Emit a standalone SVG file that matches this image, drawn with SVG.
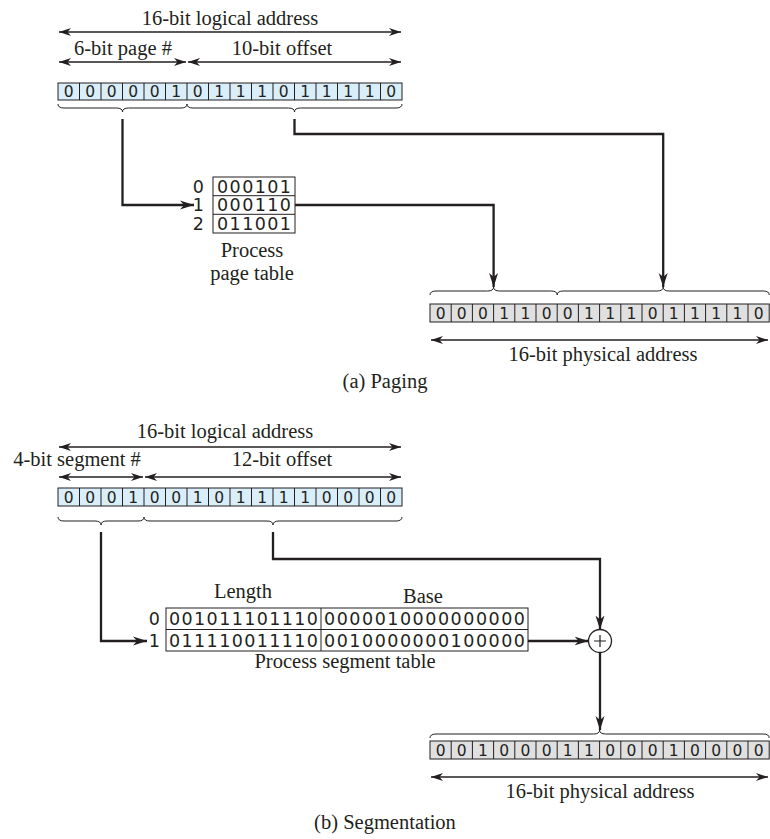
<svg xmlns="http://www.w3.org/2000/svg" width="770" height="839" viewBox="0 0 770 839">
<style>
.lbl{font-family:"Liberation Serif","Times New Roman",serif;font-size:20.5px;fill:#231f20;text-anchor:middle}
.bit{font-family:"DejaVu Sans","Liberation Sans",sans-serif;font-size:15.5px;fill:#231f20;text-anchor:middle}
.tb{font-family:"DejaVu Sans","Liberation Sans",sans-serif;font-size:17.5px;fill:#231f20}
.idx{font-family:"DejaVu Sans","Liberation Sans",sans-serif;font-size:17.5px;fill:#231f20;text-anchor:end}
.logbox{fill:#d9eef9;stroke:#231f20;stroke-width:1}
.phybox{fill:#e0e0e0;stroke:#231f20;stroke-width:1}
.tbl{fill:#ffffff;stroke:#231f20;stroke-width:1}
.div{stroke:#231f20;stroke-width:1;fill:none}
.dim{stroke:#231f20;stroke-width:1.3;fill:none;marker-start:url(#ah);marker-end:url(#ah)}
.brace{stroke:#231f20;stroke-width:1;fill:none}
.conn{stroke:#231f20;stroke-width:2.3;fill:none}
.conna{stroke:#231f20;stroke-width:2.3;fill:none;marker-end:url(#ah2)}
</style>
<defs>
<marker id="ah" viewBox="-12 -5 12 10" refX="0" refY="0" markerWidth="12" markerHeight="10" markerUnits="userSpaceOnUse" orient="auto-start-reverse">
<path d="M0,0 L-12,-4 L-8.5,0 L-12,4 Z" fill="#231f20"/>
</marker>
<marker id="ah2" viewBox="-14 -5 14 10" refX="0" refY="0" markerWidth="14" markerHeight="10" markerUnits="userSpaceOnUse" orient="auto">
<path d="M0,0 L-14,-4.5 L-10,0 L-14,4.5 Z" fill="#231f20"/>
</marker>
</defs>

<!-- (a) Paging -->
<g id="paging-logical-dims">
<text class="lbl" x="230" y="25">16-bit logical address</text>
<line class="dim" x1="59" y1="32" x2="401" y2="32"/>
<text class="lbl" x="123" y="55">6-bit page #</text>
<text class="lbl" x="282" y="55">10-bit offset</text>
<line class="dim" x1="59" y1="62" x2="186" y2="62"/>
<line class="dim" x1="188" y1="62" x2="401" y2="62"/>
</g>

<g id="paging-logical-address">
<rect class="logbox" x="58" y="83" width="344" height="17"/>
<path class="div" d="M79.5,83v17M101,83v17M122.5,83v17M144,83v17M165.5,83v17M187,83v17M208.5,83v17M230,83v17M251.5,83v17M273,83v17M294.5,83v17M316,83v17M337.5,83v17M359,83v17M380.5,83v17"/>
<text class="bit" y="97"><tspan x="68.75">0</tspan><tspan x="90.25">0</tspan><tspan x="111.75">0</tspan><tspan x="133.25">0</tspan><tspan x="154.75">0</tspan><tspan x="176.25">1</tspan><tspan x="197.75">0</tspan><tspan x="219.25">1</tspan><tspan x="240.75">1</tspan><tspan x="262.25">1</tspan><tspan x="283.75">0</tspan><tspan x="305.25">1</tspan><tspan x="326.75">1</tspan><tspan x="348.25">1</tspan><tspan x="369.75">1</tspan><tspan x="391.25">0</tspan></text>
<path class="brace" d="M58,104 Q58,108 64,108 L116.5,108 Q122.5,108 122.5,112 Q122.5,108 128.5,108 L181,108 Q187,108 187,104"/>
<path class="brace" d="M187,104 Q187,108 193,108 L288.5,108 Q294.5,108 294.5,112 Q294.5,108 300.5,108 L396,108 Q402,108 402,104"/>
</g>

<g id="page-table">
<text class="idx" x="204" y="192.5">0</text>
<text class="idx" x="204" y="211.2">1</text>
<text class="idx" x="204" y="229.9">2</text>
<rect class="tbl" x="213" y="177" width="82" height="56"/>
<path class="div" d="M213,195.7H295M213,214.3H295"/>
<text class="tb" x="217" y="192.5" textLength="74" lengthAdjust="spacing">000101</text>
<text class="tb" x="217" y="211.2" textLength="74" lengthAdjust="spacing">000110</text>
<text class="tb" x="217" y="229.9" textLength="74" lengthAdjust="spacing">011001</text>
<text class="lbl" x="252" y="257">Process</text>
<text class="lbl" x="252" y="280">page table</text>
</g>

<g id="paging-physical-address">
<path class="brace" d="M430,295 Q430,291 436,291 L487.6,291 Q493.6,291 493.6,287 Q493.6,291 499.6,291 L551.2,291 Q557.2,291 557.2,295"/>
<path class="brace" d="M557.2,295 Q557.2,291 563.2,291 L657.2,291 Q663.2,291 663.2,287 Q663.2,291 669.2,291 L763.2,291 Q769.2,291 769.2,295"/>
<rect class="phybox" x="430" y="304" width="339.2" height="18"/>
<path class="div" d="M451.2,304v18M472.4,304v18M493.6,304v18M514.8,304v18M536,304v18M557.2,304v18M578.4,304v18M599.6,304v18M620.8,304v18M642,304v18M663.2,304v18M684.4,304v18M705.6,304v18M726.8,304v18M748,304v18"/>
<text class="bit" y="318.5"><tspan x="440.6">0</tspan><tspan x="461.8">0</tspan><tspan x="483">0</tspan><tspan x="504.2">1</tspan><tspan x="525.4">1</tspan><tspan x="546.6">0</tspan><tspan x="567.8">0</tspan><tspan x="589">1</tspan><tspan x="610.2">1</tspan><tspan x="631.4">1</tspan><tspan x="652.6">0</tspan><tspan x="673.8">1</tspan><tspan x="695">1</tspan><tspan x="716.2">1</tspan><tspan x="737.4">1</tspan><tspan x="758.6">0</tspan></text>
<line class="dim" x1="431" y1="340" x2="768" y2="340"/>
<text class="lbl" x="603" y="361">16-bit physical address</text>
</g>

<text class="lbl" x="385" y="388">(a) Paging</text>

<!-- (b) Segmentation -->
<g id="seg-logical-dims">
<text class="lbl" x="225" y="438">16-bit logical address</text>
<line class="dim" x1="59" y1="447" x2="401" y2="447"/>
<text class="lbl" x="77" y="466">4-bit segment #</text>
<text class="lbl" x="282" y="466">12-bit offset</text>
<line class="dim" x1="59" y1="477" x2="143" y2="477"/>
<line class="dim" x1="145" y1="477" x2="401" y2="477"/>
</g>

<g id="seg-logical-address">
<rect class="logbox" x="58" y="488" width="344" height="18"/>
<path class="div" d="M79.5,488v18M101,488v18M122.5,488v18M144,488v18M165.5,488v18M187,488v18M208.5,488v18M230,488v18M251.5,488v18M273,488v18M294.5,488v18M316,488v18M337.5,488v18M359,488v18M380.5,488v18"/>
<text class="bit" y="502.5"><tspan x="68.75">0</tspan><tspan x="90.25">0</tspan><tspan x="111.75">0</tspan><tspan x="133.25">1</tspan><tspan x="154.75">0</tspan><tspan x="176.25">0</tspan><tspan x="197.75">1</tspan><tspan x="219.25">0</tspan><tspan x="240.75">1</tspan><tspan x="262.25">1</tspan><tspan x="283.75">1</tspan><tspan x="305.25">1</tspan><tspan x="326.75">0</tspan><tspan x="348.25">0</tspan><tspan x="369.75">0</tspan><tspan x="391.25">0</tspan></text>
<path class="brace" d="M58,517 Q58,521 64,521 L95,521 Q101,521 101,525 Q101,521 107,521 L138,521 Q144,521 144,517"/>
<path class="brace" d="M144,517 Q144,521 150,521 L267,521 Q273,521 273,525 Q273,521 279,521 L396,521 Q402,521 402,517"/>
</g>

<g id="segment-table">
<text class="lbl" x="243" y="598">Length</text>
<text class="lbl" x="423" y="603">Base</text>
<text class="idx" x="160" y="625">0</text>
<text class="idx" x="160" y="646.5">1</text>
<rect class="tbl" x="166" y="608" width="362" height="43"/>
<path class="div" d="M166,629.5H528M321,608V651"/>
<text class="tb" x="169" y="625" textLength="149" lengthAdjust="spacing">001011101110</text>
<text class="tb" x="169" y="646.5" textLength="149" lengthAdjust="spacing">011110011110</text>
<text class="tb" x="324" y="625" textLength="201" lengthAdjust="spacing">0000010000000000</text>
<text class="tb" x="324" y="646.5" textLength="201" lengthAdjust="spacing">0010000000100000</text>
<text class="lbl" x="345" y="668">Process segment table</text>
</g>

<g id="adder">
<circle cx="600" cy="641" r="11.5" fill="#ffffff" stroke="#231f20" stroke-width="1.3"/>
<path d="M594,641H606M600,635V647" stroke="#231f20" stroke-width="1.2" fill="none"/>
</g>

<g id="seg-physical-address">
<path class="brace" d="M430,738 Q430,734 436,734 L593.6,734 Q599.6,734 599.6,730 Q599.6,734 605.6,734 L763.2,734 Q769.2,734 769.2,738"/>
<rect class="phybox" x="430" y="741" width="339.2" height="18"/>
<path class="div" d="M451.2,741v18M472.4,741v18M493.6,741v18M514.8,741v18M536,741v18M557.2,741v18M578.4,741v18M599.6,741v18M620.8,741v18M642,741v18M663.2,741v18M684.4,741v18M705.6,741v18M726.8,741v18M748,741v18"/>
<text class="bit" y="755.5"><tspan x="440.6">0</tspan><tspan x="461.8">0</tspan><tspan x="483">1</tspan><tspan x="504.2">0</tspan><tspan x="525.4">0</tspan><tspan x="546.6">0</tspan><tspan x="567.8">1</tspan><tspan x="589">1</tspan><tspan x="610.2">0</tspan><tspan x="631.4">0</tspan><tspan x="652.6">0</tspan><tspan x="673.8">1</tspan><tspan x="695">0</tspan><tspan x="716.2">0</tspan><tspan x="737.4">0</tspan><tspan x="758.6">0</tspan></text>
<line class="dim" x1="431" y1="777" x2="768" y2="777"/>
<text class="lbl" x="600" y="798">16-bit physical address</text>
</g>

<text class="lbl" x="385" y="829">(b) Segmentation</text>

<g id="connectors">
<path class="conna" d="M122.5,119 V205 H194"/>
<path class="conna" d="M294.5,119 V134 H663.2 V287"/>
<path class="conna" d="M295,205 H493.6 V287"/>
<path class="conna" d="M101,532 V641 H147"/>
<path class="conna" d="M273,532 V559 H600 V629.5"/>
<path class="conna" d="M528,641 H588.5"/>
<path class="conna" d="M600,652.5 V730"/>
</g>
</svg>
